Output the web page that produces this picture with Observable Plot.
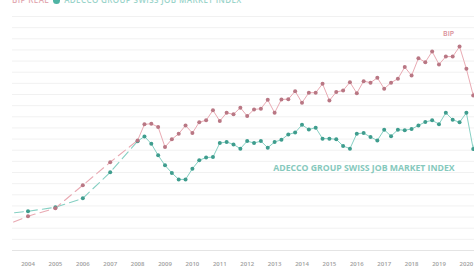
<!DOCTYPE html>
<html>
<head>
<meta charset="utf-8">
<script src="https://cdn.jsdelivr.net/npm/d3@7"></script>
<script src="https://cdn.jsdelivr.net/npm/@observablehq/plot@0.6"></script>
<style>
  html, body { margin: 0; padding: 0; background: #fff; overflow: hidden; }
  #wrap { position: relative; width: 474px; height: 266px; overflow: hidden; }
  #head { position: absolute; top: -5px; left: 12px; font-family: "Open Sans", sans-serif; font-weight: 600; font-size: 8px; letter-spacing: 0.4px; white-space: nowrap; line-height: 10px; }
  #head .p { color: #e3aab2; }
  #head .t { color: #9ad4ca; }
  #head .m { display: inline-block; width: 7px; height: 7px; border-radius: 50%; background: #4fb4a4; margin: 0 4px; vertical-align: -1px; }
</style>
</head>
<body>
<div id="wrap">
  <div id="chart"></div>
  <div id="head"><span class="p">BIP REAL</span><span class="m"></span><span class="t">ADECCO GROUP SWISS JOB MARKET INDEX</span></div>
</div>
<script>
// Annual values (2003–2007) – shown dashed
const annualYears = [2003, 2004, 2005, 2006, 2007];
const bipAnnual   = [10.4, 15.4, 19.0, 29.3, 39.6];
const jobAnnual   = [16.3, 17.6, 19.4, 23.4, 35.1];

// Quarterly values from 2008 Q1 to 2020 Q3
const quarterStartYear = 2008;
const bipQuarterly = [
  49.4, 56.6, 56.9, 55.4,
  46.4, 49.9, 52.4, 56.1,
  52.7, 57.6, 58.4, 62.9,
  58.1, 61.8, 61.1, 64.1,
  60.3, 63.3, 63.6, 67.6,
  61.8, 67.8, 67.9, 71.5,
  66.3, 70.8, 70.8, 74.8,
  67.3, 71.1, 71.8, 75.5,
  70.6, 76.0, 75.3, 77.5,
  72.6, 75.3, 77.1, 82.3,
  78.5, 86.3, 84.5, 89.3,
  83.5, 87.0, 87.0, 91.5,
  81.5, 69.6, 79.0
];
const jobQuarterly = [
  49.0, 51.2, 47.9, 42.7,
  38.2, 34.8, 31.9, 31.9,
  36.7, 40.5, 41.7, 41.9,
  48.2, 48.7, 47.6, 45.7,
  49.1, 48.2, 49.1, 46.1,
  48.7, 49.7, 52.1, 52.9,
  56.4, 54.3, 55.1, 50.2,
  50.2, 49.9, 46.9, 45.7,
  52.4, 52.7, 50.9, 49.4,
  54.2, 51.3, 54.2, 54.0,
  54.5, 56.1, 57.7, 58.4,
  56.7, 61.8, 58.7, 57.5,
  61.8, 45.5, 58.0
];
const tickYears = d3.range(2004, 2021);
const gridValues = d3.range(0, 106, 5);
const bipLabel = [{text: "BIP", year: 2019.35, value: 97.3}];
const jobLabel = [{text: "ADECCO GROUP SWISS JOB MARKET INDEX", year: 2019.57, value: 36.9}];

const pink = {line: "#e9aab3", dot: "#b97784", label: "#d98e99"};
const teal = {line: "#86d0c3", dot: "#3f9d8e", label: "#86c9bd"};

const toQuarterly = (vals) => vals.map((v, i) => ({x: quarterStartYear + i / 4, y: v}));
const toAnnual = (vals) => vals.map((v, i) => ({x: annualYears[i], y: v}));

const bipQ = toQuarterly(bipQuarterly);
const jobQ = toQuarterly(jobQuarterly);
const bipA = toAnnual(bipAnnual);
const jobA = toAnnual(jobAnnual);
const bipDash = [...bipA, bipQ[0]];
const jobDash = [...jobA, jobQ[0]];
const bipDots = bipA.filter(d => d.x >= 2004);
const jobDots = jobA.filter(d => d.x >= 2004);

const chart = Plot.plot({
  width: 474,
  height: 266,
  marginLeft: 12,
  marginRight: 0,
  marginTop: 16,
  marginBottom: 16,
  style: {background: "#fff", fontFamily: "'Open Sans', sans-serif", overflow: "hidden"},
  x: {domain: [2003.434, 2020.296], axis: null},
  y: {domain: [0, 105], axis: null},
  marks: [
    Plot.ruleY(gridValues, {stroke: d => d === 0 ? "#e4e4e4" : "#f1f1f1", strokeWidth: 1}),
    Plot.axisX(tickYears, {tickSize: 0, tickPadding: 11, tickFormat: d => String(d), fontSize: 6, fill: "#a0a0a0", fontWeight: 600, stroke: null}),
    Plot.line(jobDash, {x: "x", y: "y", stroke: teal.line, strokeWidth: 1.1, strokeDasharray: "9,5", clip: true}),
    Plot.line(bipDash, {x: "x", y: "y", stroke: pink.line, strokeWidth: 1.1, strokeDasharray: "9,5", clip: true}),
    Plot.line(jobQ, {x: "x", y: "y", stroke: teal.line, strokeWidth: 1, clip: true}),
    Plot.line(bipQ, {x: "x", y: "y", stroke: pink.line, strokeWidth: 1, clip: true}),
    Plot.dot(jobDots, {x: "x", y: "y", r: 2, fill: teal.dot}),
    Plot.dot(bipDots, {x: "x", y: "y", r: 2, fill: pink.dot}),
    Plot.dot(jobQ, {x: "x", y: "y", r: 2, fill: teal.dot, clip: true}),
    Plot.dot(bipQ, {x: "x", y: "y", r: 2, fill: pink.dot, clip: true}),
    Plot.text(bipLabel, {x: "year", y: "value", text: "text", textAnchor: "middle", fill: pink.label, fontSize: 7, fontWeight: 600}),
    Plot.text(jobLabel, {x: "year", y: "value", text: "text", textAnchor: "end", fill: teal.label, fontSize: 8.7, fontWeight: 700})
  ]
});
document.getElementById("chart").appendChild(chart);
</script>
</body>
</html>
